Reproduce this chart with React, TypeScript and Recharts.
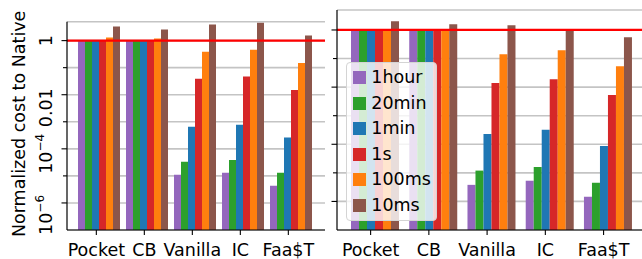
import React from 'react';
import { BarChart, Bar, XAxis, YAxis, CartesianGrid, ReferenceLine, Label } from 'recharts';

// categories and series
const categories = ['Pocket', 'CB', 'Vanilla', 'IC', 'Faa$T'];
const seriesNames = ['1hour', '20min', '1min', '1s', '100ms', '10ms'];
const seriesColors = ['#9467bd', '#2ca02c', '#1f77b4', '#d62728', '#ff7f0e', '#8c564b'];

// left panel values (normalized cost)
const left1hour = [1, 1, 1.1e-5, 1.3e-5, 4.3e-6];
const left20min = [1, 1, 3.3e-5, 3.9e-5, 1.3e-5];
const left1min = [1, 1, 6.5e-4, 7.8e-4, 2.6e-4];
const left1s = [1, 1, 0.039, 0.047, 0.015];
const left100ms = [1.29, 1.19, 0.39, 0.46, 0.15];
const left10ms = [3.3, 2.55, 3.9, 4.6, 1.53];

// right panel values
const right1hour = [1, 1, 3.8e-6, 5.3e-6, 1.45e-6];
const right20min = [1, 1, 1.2e-5, 1.6e-5, 4.5e-6];
const right1min = [1, 1, 2.3e-4, 3.2e-4, 8.7e-5];
const right1s = [1, 1, 0.014, 0.019, 0.0053];
const right100ms = [1, 1, 0.14, 0.195, 0.054];
const right10ms = [2.0, 1.58, 1.46, 1.0, 0.56];

const yTicks = [1e-6, 1e-5, 1e-4, 1e-3, 1e-2, 1e-1, 1];
const yDomain = [1e-7, 5];

const FONT = 'DejaVu Sans';
const FS = 17.5;

function buildRows(cols: number[][]) {
  return categories.map((name, i) => {
    const row: any = { name };
    seriesNames.forEach((s, j) => {
      row[s] = cols[j][i];
    });
    return row;
  });
}

const leftData = buildRows([left1hour, left20min, left1min, left1s, left100ms, left10ms]);
const rightData = buildRows([right1hour, right20min, right1min, right1s, right100ms, right10ms]);

// where matplotlib put the rotated labels relative to the tick
const labelShift: Record<string, number> = { '1': 0, '0.01': 13, '0.0001': 5, '0.000001': 12 };

function YTick(props: any, showLabels: boolean) {
  const { x, y, payload } = props;
  const v = payload.value;
  const exp = Math.round(Math.log10(v));
  const major = exp % 2 === 0;
  let label: React.ReactNode = null;
  if (showLabels && major) {
    const shift = labelShift[String(v)] ?? 0;
    let content: React.ReactNode;
    if (exp === 0) content = '1';
    else if (exp === -2) content = '0.01';
    else
      content = (
        <>
          10
          <tspan dy={-8} fontSize={12}>
            {'\u2212' + Math.abs(exp)}
          </tspan>
        </>
      );
    label = (
      <text
        transform={`translate(${x - 15},${y + shift}) rotate(-90)`}
        textAnchor="middle"
        fontFamily={FONT}
        fontSize={FS}
        fill="#000"
      >
        {content}
      </text>
    );
  }
  return (
    <g>
      <line x1={x - (major ? 5.5 : 4)} x2={x} y1={y} y2={y} stroke="#000" strokeWidth={1.1} />
      {label}
    </g>
  );
}

function makeXTick(offset: number) {
  return (props: any) => {
    const { x, y, payload } = props;
    const cx = x + offset;
    return (
      <g>
        <line x1={cx} x2={cx} y1={y} y2={y + 5} stroke="#000" strokeWidth={1.1} />
        <text x={cx} y={y + 26} textAnchor="middle" fontFamily={FONT} fontSize={FS} fill="#000">
          {payload.value}
        </text>
      </g>
    );
  };
}

function YTitle(props: any) {
  const { viewBox } = props;
  const cy = viewBox.y + viewBox.height / 2 - 2;
  return (
    <text
      transform={`translate(25,${cy}) rotate(-90)`}
      textAnchor="middle"
      fontFamily={FONT}
      fontSize={FS}
      fill="#000"
    >
      Normalized cost to Native
    </text>
  );
}

export default function App() {
  return (
    <div
      style={{
        position: 'absolute',
        left: 0,
        top: 0,
        width: 642,
        height: 259,
        overflow: 'hidden',
        background: '#fff',
      }}
    >
      {/* Left panel */}
      <div style={{ position: 'absolute', left: 0, top: 0 }}>
        <BarChart
          width={330}
          height={259}
          data={leftData}
          margin={{ top: 21.7, right: 5, bottom: 0, left: 0 }}
          barCategoryGap={2}
          barGap={0}
        >
          <CartesianGrid vertical={false} stroke="#c4c4c4" strokeWidth={1.6} />
          <XAxis
            dataKey="name"
            height={29}
            padding={{ left: 9, right: 9 }}
            tickLine={false}
            tickSize={0}
            tickMargin={0}
            axisLine={{ stroke: '#000', strokeWidth: 1.2 }}
            tick={makeXTick(-3.67)}
            interval={0}
          />
          <YAxis
            width={67}
            scale="log"
            type="number"
            domain={yDomain}
            allowDataOverflow
            ticks={yTicks}
            interval={0}
            tickLine={false}
            tickSize={0}
            tickMargin={0}
            axisLine={{ stroke: '#000', strokeWidth: 1.2 }}
            tick={(p: any) => YTick(p, true)}
          >
            <Label content={YTitle} />
          </YAxis>
          {seriesNames.map((s, i) => (
            <Bar key={s} dataKey={s} fill={seriesColors[i]} isAnimationActive={false} />
          ))}
          <ReferenceLine y={1} stroke="#ff0000" strokeWidth={2.2} />
        </BarChart>
      </div>

      {/* Right panel */}
      <div style={{ position: 'absolute', left: 330, top: 0 }}>
        <BarChart
          width={320}
          height={259}
          data={rightData}
          margin={{ top: 10, right: 5, bottom: 0, left: 0 }}
          barCategoryGap={5.6}
          barGap={0}
        >
          <CartesianGrid vertical={false} stroke="#c4c4c4" strokeWidth={1.6} />
          <XAxis
            dataKey="name"
            height={29}
            padding={{ left: 8.4, right: 8.4 }}
            tickLine={false}
            tickSize={0}
            tickMargin={0}
            axisLine={{ stroke: '#000', strokeWidth: 1.2 }}
            tick={makeXTick(-3.9)}
            interval={0}
          />
          <YAxis
            width={7}
            scale="log"
            type="number"
            domain={yDomain}
            allowDataOverflow
            ticks={yTicks}
            interval={0}
            tickLine={false}
            tickSize={0}
            tickMargin={0}
            axisLine={{ stroke: '#000', strokeWidth: 1.2 }}
            tick={(p: any) => YTick(p, false)}
          />
          {seriesNames.map((s, i) => (
            <Bar key={s} dataKey={s} fill={seriesColors[i]} isAnimationActive={false} />
          ))}
          <ReferenceLine y={1} stroke="#ff0000" strokeWidth={2.2} />
        </BarChart>
      </div>

      {/* Legend */}
      <div
        style={{
          position: 'absolute',
          left: 346,
          top: 62,
          width: 91,
          height: 159,
          boxSizing: 'border-box',
          border: '1px solid #d4d4d4',
          borderRadius: 4,
          background: 'rgba(255,255,255,0.8)',
          paddingTop: 2,
          paddingLeft: 6,
          fontFamily: FONT,
          fontSize: FS,
          color: '#000',
        }}
      >
        {seriesNames.map((s, i) => (
          <div key={s} style={{ height: 25.5, display: 'flex', alignItems: 'center' }}>
            <span
              style={{
                display: 'inline-block',
                width: 13.3,
                height: 13,
                background: seriesColors[i],
                marginRight: 5,
              }}
            />
            <span style={{ lineHeight: 1 }}>{s}</span>
          </div>
        ))}
      </div>
    </div>
  );
}
